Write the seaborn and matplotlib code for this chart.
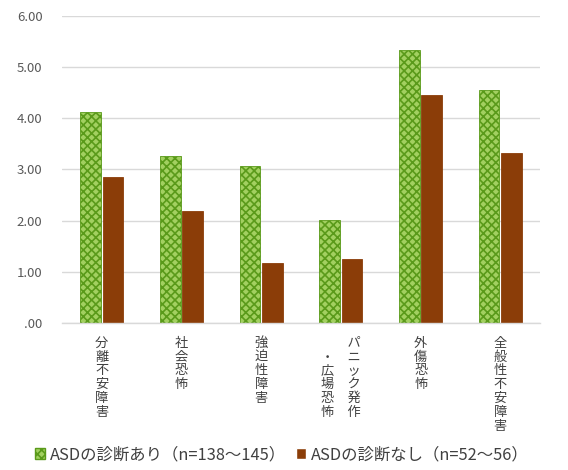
import matplotlib
matplotlib.use("Agg")
import matplotlib.pyplot as plt
import seaborn as sns
import pandas as pd
from matplotlib.ticker import FuncFormatter

categories = ["分離不安障害", "社会恐怖", "強迫性障害", "パニック発作・広場恐怖", "外傷恐怖", "全般性不安障害"]
# vertical labels (rows of characters); the panic label uses two columns
tick_labels = [
    "分\n離\n不\n安\n障\n害",
    "社\n会\n恐\n怖",
    "強\n迫\n性\n障\n害",
    "　　パ\n・　ニ\n広　ッ\n場　ク\n恐　発\n怖　作",
    "外\n傷\n恐\n怖",
    "全\n般\n性\n不\n安\n障\n害",
]
series_names = ["ASDの診断あり（n=138～145）", "ASDの診断なし（n=52～56）"]
asd_yes = [4.12, 3.27, 3.07, 2.01, 5.33, 4.56]
asd_no = [2.86, 2.18, 1.17, 1.25, 4.46, 3.32]

df = pd.DataFrame({
    "cat": categories * 2,
    "group": [series_names[0]] * 6 + [series_names[1]] * 6,
    "val": asd_yes + asd_no,
})

sns.set_theme(style="white")
plt.rcParams["font.family"] = ["Noto Sans CJK JP", "DejaVu Sans"]
plt.rcParams["hatch.linewidth"] = 1.2

fig = plt.figure(figsize=(5.68, 4.70), dpi=100)
ax = fig.add_axes([0.109, 0.313, 0.842, 0.653])

green = "#A2D060"
green_edge = "#5A9A1A"
brown = "#8B3D08"

sns.barplot(data=df, x="cat", y="val", hue="group", order=categories,
            hue_order=series_names, palette=[green, brown], saturation=1,
            width=0.56, gap=0.08, ax=ax, legend=True)

for bar in ax.containers[0]:
    bar.set_hatch("xxxx")
    bar.set_edgecolor(green_edge)
    bar.set_linewidth(0.6)
for bar in ax.containers[1]:
    bar.set_edgecolor(brown)
    bar.set_linewidth(0.6)

ax.set_ylim(0, 6)
ax.set_yticks([0, 1, 2, 3, 4, 5, 6])
ax.yaxis.set_major_formatter(FuncFormatter(lambda v, p: ("%.2f" % v).lstrip("0") if v < 1 else "%.2f" % v))
ax.grid(axis="y", color="#D9D9D9", linewidth=1)
ax.set_axisbelow(True)
for s in ["top", "right", "left"]:
    ax.spines[s].set_visible(False)
ax.spines["bottom"].set_color("#D9D9D9")
ax.spines["bottom"].set_linewidth(1)

ax.set_xticks(range(len(categories)))
ax.set_xticklabels(tick_labels, fontsize=9.5, color="#404040", linespacing=1.08, va="top")
ax.tick_params(axis="x", length=0, pad=10)
ax.tick_params(axis="y", length=0, pad=14, labelsize=9.5, labelcolor="#595959")
ax.set_xlabel("")
ax.set_ylabel("")
ax.set_xlim(-0.5, 5.5)

leg = ax.legend(loc="lower center", bbox_to_anchor=(0.46, -0.505), ncol=2, frameon=False,
                fontsize=11.8, handlelength=0.6, handleheight=0.6, handletextpad=0.3,
                columnspacing=0.6, labelcolor="#404040")
for h in leg.legend_handles[:1]:
    h.set_hatch("xxxx")
    h.set_edgecolor(green_edge)

fig.savefig("out.png", dpi=100)
